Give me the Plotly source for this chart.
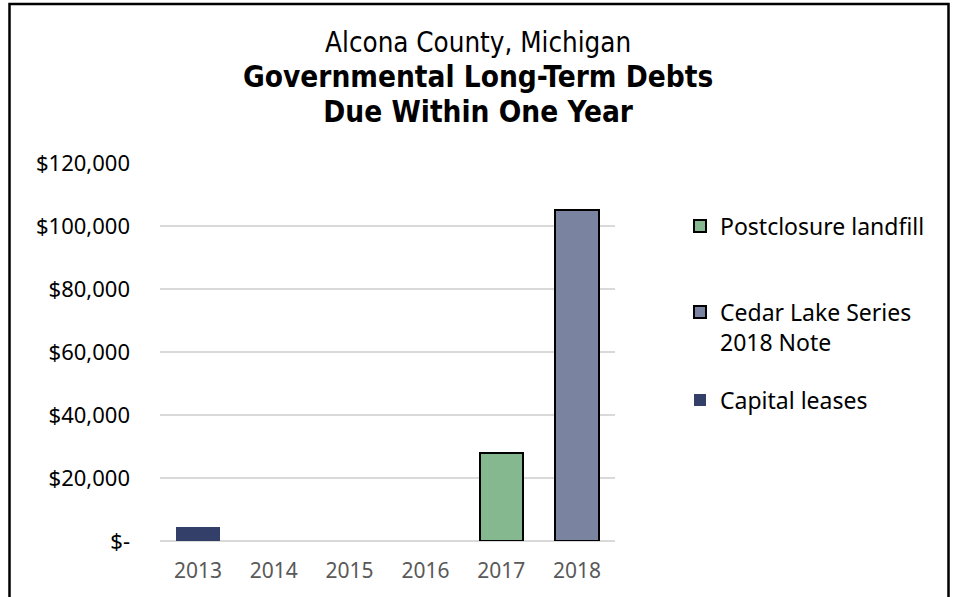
import plotly.graph_objects as go

years = ["2013", "2014", "2015", "2016", "2017", "2018"]
capital_leases = [4500, None, None, None, None, None]
cedar_lake = [None, None, None, None, None, 105000]
postclosure = [None, None, None, None, 28000, None]
tick_vals = [0, 20000, 40000, 60000, 80000, 100000, 120000]
tick_text = ["$-", "$20,000", "$40,000", "$60,000", "$80,000", "$100,000", "$120,000"]
title_lines = ["Alcona County, Michigan", "Governmental Long-Term Debts", "Due Within One Year"]

FONT = "Noto Sans"
TFONT = "DejaVu Sans Condensed"
W, H = 957, 597
L, R, T, B = 160, 342, 163, 56
PH = H - T - B
PW = W - L - R


def py(px):
    return (H - B - px) / PH


def pxx(px):
    return (px - L) / PW


fig = go.Figure()
fig.add_trace(go.Bar(x=years, y=postclosure, name="Postclosure landfill",
                     marker=dict(color="#85b88e", line=dict(color="black", width=2)),
                     legend="legend", showlegend=True))
fig.add_trace(go.Bar(x=years, y=cedar_lake, name="Cedar Lake Series<br>2018 Note",
                     marker=dict(color="#7a83a0", line=dict(color="black", width=2)),
                     legend="legend2", showlegend=True))
fig.add_trace(go.Bar(x=years, y=capital_leases, name="Capital leases",
                     marker=dict(color="#343f69", line=dict(width=0)),
                     legend="legend3", showlegend=True))

title_text = ("<span style='font-size:27.5px'>" + title_lines[0] + "</span><br>"
              "<b><span style='font-size:29.5px'>" + title_lines[1] + "</span></b><br>"
              "<b><span style='font-size:29.5px'>" + title_lines[2] + "</span></b>")

annotations = [
    dict(text=title_text, x=pxx(478), xref="paper", y=py(77), yref="paper",
         xanchor="center", yanchor="middle", showarrow=False, align="center",
         font=dict(family=TFONT, size=27, color="black")),
]

legend_common = dict(xanchor="left", yanchor="middle", valign="top", visible=True,
                     font=dict(family=FONT, size=23, color="black"),
                     bgcolor="rgba(0,0,0,0)")

fig.update_layout(
    width=W, height=H,
    showlegend=True,
    barmode="stack", bargap=0.43,
    plot_bgcolor="white", paper_bgcolor="white",
    margin=dict(l=L, r=R, t=T, b=B, autoexpand=False),
    font=dict(family=FONT, color="black"),
    annotations=annotations,
    legend=dict(x=pxx(680), y=py(226), **legend_common),
    legend2=dict(x=pxx(680), y=py(327), **legend_common),
    legend3=dict(x=pxx(680), y=py(400), **legend_common),
    xaxis=dict(tickfont=dict(family=FONT, size=21, color="#595959"),
               showgrid=False, showline=False, ticks="", ticklabelstandoff=15),
    yaxis=dict(range=[0, 120000], tickvals=tick_vals, ticktext=tick_text,
               tickfont=dict(family=FONT, size=22, color="black"),
               showgrid=True, gridcolor="#d9d9d9", gridwidth=1.5,
               zeroline=True, zerolinecolor="#d9d9d9", zerolinewidth=1.5,
               ticks="", ticklabelstandoff=29),
    shapes=[dict(type="rect", xref="paper", yref="paper",
                 x0=pxx(9.5), x1=pxx(948.5),
                 y0=py(620), y1=py(4),
                 line=dict(color="black", width=2.5), fillcolor="rgba(0,0,0,0)",
                 layer="below")],
)

fig.write_html("out.html", config={"displayModeBar": False},
               post_script="document.body.style.margin='0';")
